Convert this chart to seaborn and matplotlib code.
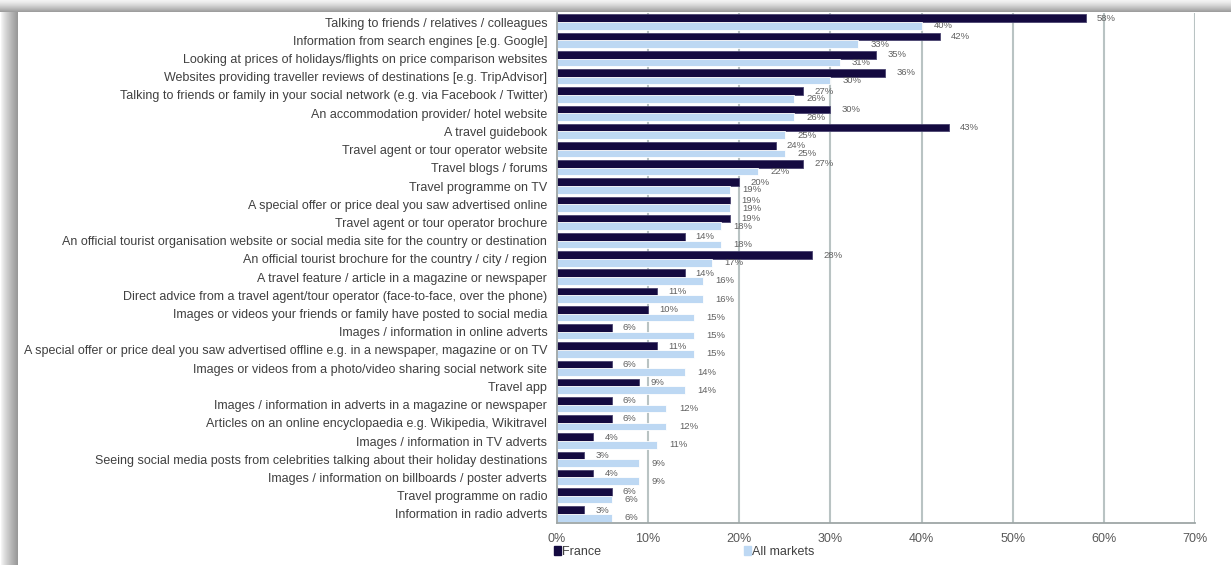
import numpy as np
import pandas as pd
import matplotlib
matplotlib.use("Agg")
import matplotlib.pyplot as plt
import seaborn as sns
from matplotlib.patches import Patch

categories = [
    "Talking to friends / relatives / colleagues",
    "Information from search engines [e.g. Google]",
    "Looking at prices of holidays/flights on price comparison websites",
    "Websites providing traveller reviews of destinations [e.g. TripAdvisor]",
    "Talking to friends or family in your social network (e.g. via Facebook / Twitter)",
    "An accommodation provider/ hotel website",
    "A travel guidebook",
    "Travel agent or tour operator website",
    "Travel blogs / forums",
    "Travel programme on TV",
    "A special offer or price deal you saw advertised online",
    "Travel agent or tour operator brochure",
    "An official tourist organisation website or social media site for the country or destination",
    "An official tourist brochure for the country / city / region",
    "A travel feature / article in a magazine or newspaper",
    "Direct advice from a travel agent/tour operator (face-to-face, over the phone)",
    "Images or videos your friends or family have posted to social media",
    "Images / information in online adverts",
    "A special offer or price deal you saw advertised offline e.g. in a newspaper, magazine or on TV",
    "Images or videos from a photo/video sharing social network site",
    "Travel app",
    "Images / information in adverts in a magazine or newspaper",
    "Articles on an online encyclopaedia e.g. Wikipedia, Wikitravel",
    "Images / information in TV adverts",
    "Seeing social media posts from celebrities talking about their holiday destinations",
    "Images / information on billboards / poster adverts",
    "Travel programme on radio",
    "Information in radio adverts",
]
france = [58, 42, 35, 36, 27, 30, 43, 24, 27, 20, 19, 19, 14, 28,
          14, 11, 10, 6, 11, 6, 9, 6, 6, 4, 3, 4, 6, 3]
all_markets = [40, 33, 31, 30, 26, 26, 25, 25, 22, 19, 19, 18, 18, 17,
               16, 16, 15, 15, 15, 14, 14, 12, 12, 11, 9, 9, 6, 6]
series_names = ["France", "All markets"]
tick_values = [0, 10, 20, 30, 40, 50, 60, 70]

DARK = "#140a40"
LIGHT = "#bdd8f3"
TEXT = "#404040"
VALUE_TEXT = "#606060"
GRID = "#b9c3c3"

sns.set_theme(style="white")
plt.rcParams["font.family"] = ["Liberation Sans", "DejaVu Sans"]

W, H = 1231, 565
fig = plt.figure(figsize=(W / 100, H / 100), dpi=100)

# shaded page frame behind the chart panel
bg = fig.add_axes([0, 0, 1, 1], zorder=-10)
img = np.ones((H, W, 3))
top_band = 12
left_band = 18
for r in range(top_band):
    shade = 0.95 - 0.33 * (r / (top_band - 1)) ** 1.3
    img[r, :, :] = shade
for c in range(left_band):
    shade = 1.0 - 0.40 * (c / (left_band - 1)) ** 0.8
    img[top_band:, c, :] = shade
bg.imshow(img, aspect="auto", extent=(0, W, H, 0), interpolation="bilinear")
bg.set_xlim(0, W)
bg.set_ylim(H, 0)
bg.axis("off")

ax = fig.add_axes([557 / W, 1 - 523 / H, (1195 - 557) / W, (523 - 13) / H])
n = len(categories)
df = pd.DataFrame({
    "category": categories * 2,
    "value": france + all_markets,
    "series": [series_names[0]] * n + [series_names[1]] * n,
})
sns.barplot(data=df, y="category", x="value", hue="series",
            hue_order=series_names, palette=[DARK, LIGHT], saturation=1,
            width=0.84, gap=0, orient="h", ax=ax, legend=False,
            errorbar=None)

for patch in ax.containers[0]:
    patch.set_edgecolor("#4a4470")
    patch.set_linewidth(0.6)
for patch in ax.containers[1]:
    patch.set_edgecolor("white")
    patch.set_linewidth(0.6)

for container, vals, pad in zip(ax.containers, [france, all_markets], [8, 9]):
    ax.bar_label(container, labels=[f"{v}%" for v in vals], padding=pad,
                 fontsize=6.8, color=VALUE_TEXT)

ax.set_xlim(0, 70)
ax.set_xticks(tick_values)
ax.set_xticklabels([f"{v}%" for v in tick_values])
ax.xaxis.grid(True, color=GRID, linewidth=1.5)
ax.yaxis.grid(False)
ax.set_axisbelow(True)
ax.set_xlabel("")
ax.set_ylabel("")
ax.tick_params(axis="x", length=0, pad=7, labelsize=9, labelcolor="#595959")
ax.tick_params(axis="y", length=0, pad=7, labelsize=9, labelcolor=TEXT)
for side in ["top", "right"]:
    ax.spines[side].set_visible(False)
for side in ["left", "bottom"]:
    ax.spines[side].set_color("#9ea6a6")
    ax.spines[side].set_linewidth(1.3)
ax.set_facecolor("none")

handles = [Patch(facecolor=DARK, edgecolor=DARK), Patch(facecolor=LIGHT, edgecolor=LIGHT)]
fig.legend(handles, series_names, loc="center left",
           bbox_to_anchor=(554 / W, 1 - 552 / H), ncol=2, frameon=False,
           fontsize=9, labelcolor="#404040", handlelength=0.55, handleheight=0.65,
           handletextpad=0.12, columnspacing=11.4, borderaxespad=0, borderpad=0)

fig.savefig("out.png", dpi=100)
